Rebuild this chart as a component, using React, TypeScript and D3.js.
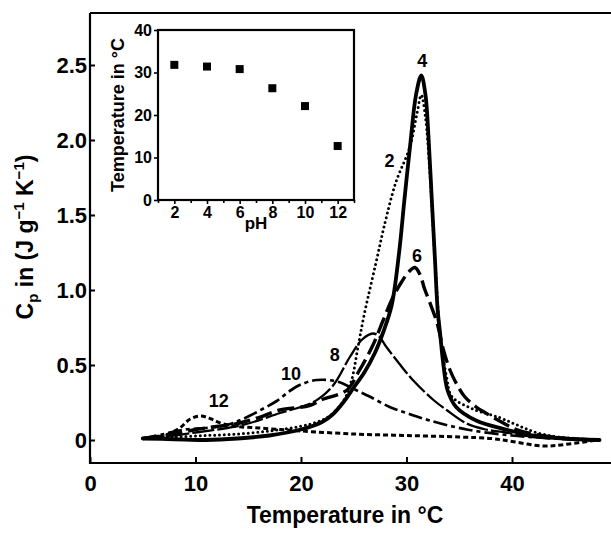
import React, { useEffect, useRef } from 'react';
import * as d3 from 'd3';

// DSC traces, [temperature °C, Cp J g-1 K-1]
const ph2 = [[5, 0.01], [8, 0.02], [11, 0.03], [14, 0.04], [17, 0.06], [19.9, 0.09], [21.5, 0.12], [22.7, 0.16], [24.1, 0.27], [24.8, 0.4], [25.4, 0.62], [26.0, 0.84], [27.1, 1.18], [28.0, 1.46], [29.0, 1.72], [30.3, 1.95], [31.0, 2.18], [31.4, 2.3], [31.8, 2.15], [32.2, 1.8], [32.7, 1.2], [33.2, 0.7], [33.8, 0.42], [34.3, 0.29], [36.2, 0.21], [38.8, 0.15], [40.5, 0.1], [42.3, 0.05], [44.5, 0.02], [48, 0.0]];
const ph4 = [[5, 0.01], [8, 0.005], [11, 0.0], [14, 0.01], [17, 0.03], [20, 0.07], [22, 0.12], [23, 0.17], [24, 0.25], [25, 0.35], [26, 0.45], [27, 0.58], [27.8, 0.72], [28.6, 0.9], [29.3, 1.25], [29.8, 1.6], [30.4, 2.0], [30.9, 2.3], [31.4, 2.43], [31.8, 2.3], [32.1, 2.0], [32.4, 1.6], [32.7, 1.2], [32.95, 0.87], [33.2, 0.7], [33.5, 0.5], [33.9, 0.33], [34.7, 0.22], [36.6, 0.13], [39.4, 0.07], [41.9, 0.03], [45, 0.01], [48.3, 0.0]];
const ph6 = [[5, 0.01], [8, 0.04], [10, 0.07], [12, 0.09], [14, 0.11], [16, 0.15], [18, 0.2], [20.8, 0.23], [22, 0.27], [24.3, 0.33], [25.5, 0.46], [26.8, 0.63], [27.8, 0.8], [28.7, 0.95], [29.5, 1.05], [30.2, 1.12], [30.8, 1.15], [31.3, 1.1], [31.7, 1.01], [32.3, 0.9], [32.9, 0.78], [33.5, 0.6], [34.1, 0.47], [34.7, 0.38], [35.5, 0.29], [36.6, 0.22], [37.5, 0.18], [39, 0.12], [40.4, 0.07], [42, 0.04], [45, 0.01], [48, 0.0]];
const ph8 = [[5, 0.01], [8, 0.03], [10, 0.05], [13, 0.08], [15, 0.11], [18, 0.18], [21.1, 0.25], [23, 0.36], [24.6, 0.55], [25.8, 0.67], [26.8, 0.71], [27.4, 0.69], [28.1, 0.62], [29.3, 0.51], [30.6, 0.4], [32.5, 0.27], [33.8, 0.2], [35.7, 0.11], [37.5, 0.07], [39.4, 0.05], [42, 0.02], [45, 0.01], [48, 0.0]];
const ph10 = [[5, 0.01], [7, 0.04], [9, 0.07], [11, 0.08], [13, 0.1], [14.5, 0.14], [16.7, 0.22], [17.7, 0.26], [19, 0.33], [20, 0.37], [21.5, 0.4], [23.4, 0.39], [25.3, 0.33], [26.5, 0.29], [28.4, 0.22], [30, 0.18], [32.2, 0.13], [35.7, 0.07], [40, 0.03], [44, 0.01], [48, 0.0]];
const ph12 = [[5, 0.01], [7, 0.03], [8.5, 0.08], [9.5, 0.14], [10.5, 0.16], [11.5, 0.14], [12.5, 0.11], [14, 0.09], [16, 0.08], [18, 0.07], [20, 0.06], [25, 0.04], [30, 0.03], [35, 0.02], [38, 0.01], [40, -0.01], [43, -0.04], [45, -0.03], [48, 0.0]];

// curve label, anchor temperature, anchor Cp
const curveLabels: [string, number, number][] = [
  ['2', 28.4, 1.82], ['4', 31.5, 2.49], ['6', 31.0, 1.19],
  ['8', 23.2, 0.53], ['10', 19.05, 0.4], ['12', 12.2, 0.22],
];

// inset: transition temperature vs pH
const insetPH = [2, 4, 6, 8, 10, 12];
const insetTemp = [31.8, 31.4, 30.8, 26.3, 22.1, 12.7];

const mainXTicks = [0, 10, 20, 30, 40];
const mainYTicks = [0, 0.5, 1.0, 1.5, 2.0, 2.5];
const insetYTicks = [0, 10, 20, 30, 40];

const font = '"Liberation Sans", Arial, Helvetica, sans-serif';

const App: React.FC = () => {
  const svgRef = useRef<SVGSVGElement | null>(null);

  useEffect(() => {
    if (!svgRef.current) return;
    const svg = d3.select(svgRef.current);
    svg.selectAll('*').remove();

    const left = 90, right = 611, top = 13, bottom = 463;

    const x = d3.scaleLinear().domain([0, 40]).range([left, 512]);
    const y = d3.scaleLinear().domain([0, 2.5]).range([440, 65]);

    // frame
    svg.append('path')
      .attr('d', `M${left},${top}H${right}M${left},${top}V${bottom}H${right}`)
      .attr('fill', 'none').attr('stroke', '#000').attr('stroke-width', 2.2);

    const yAxis = svg.append('g')
      .attr('transform', `translate(${left},0)`)
      .call(d3.axisLeft(y).tickValues(mainYTicks).tickFormat(d3.format('.1f'))
        .tickSizeInner(-5).tickSizeOuter(0).tickPadding(3));
    const xAxis = svg.append('g')
      .attr('transform', `translate(0,${bottom})`)
      .call(d3.axisBottom(x).tickValues(mainXTicks).tickFormat(d3.format('d'))
        .tickSizeInner(-6).tickSizeOuter(0).tickPadding(12));
    [xAxis, yAxis].forEach((g) => {
      g.select('.domain').remove();
      g.selectAll('line').attr('stroke-width', 2);
      g.selectAll('text').attr('font-family', font).attr('font-size', 22)
        .attr('font-weight', 'bold').attr('fill', '#000');
    });
    yAxis.selectAll('text').text((d: any) => (d === 0 ? '0' : d3.format('.1f')(d)));

    // curves
    const line = d3.line<number[]>()
      .x((d) => x(d[0]))
      .y((d) => y(d[1]))
      .curve(d3.curveCatmullRom.alpha(0.5));

    const series = [
      { data: ph12, width: 3.0, dash: '5,3', cap: 'butt' },
      { data: ph10, width: 2.7, dash: '14,4,4,4', cap: 'butt' },
      { data: ph8, width: 2.3, dash: '22,3', cap: 'butt' },
      { data: ph6, width: 3.4, dash: '17,6', cap: 'butt' },
      { data: ph2, width: 3.0, dash: '0,4.8', cap: 'round' },
      { data: ph4, width: 3.8, dash: null, cap: 'round' },
    ];
    series.forEach((s) => {
      svg.append('path')
        .attr('d', line(s.data))
        .attr('fill', 'none')
        .attr('stroke', '#000')
        .attr('stroke-width', s.width)
        .attr('stroke-linecap', s.cap)
        .attr('stroke-linejoin', 'round')
        .attr('stroke-dasharray', s.dash);
    });

    svg.append('g').selectAll('text').data(curveLabels).enter().append('text')
      .attr('x', (d) => x(d[1]))
      .attr('y', (d) => y(d[2]))
      .attr('text-anchor', 'middle')
      .attr('font-family', font).attr('font-size', 18).attr('font-weight', 'bold')
      .text((d) => d[0]);

    // axis titles
    svg.append('text')
      .attr('x', 345).attr('y', 523)
      .attr('text-anchor', 'middle')
      .attr('font-family', font).attr('font-size', 23).attr('font-weight', 'bold')
      .text('Temperature in °C');

    const yt = svg.append('text')
      .attr('transform', 'translate(33,237) rotate(-90)')
      .attr('text-anchor', 'middle')
      .attr('font-family', font).attr('font-size', 23).attr('font-weight', 'bold');
    yt.append('tspan').text('C');
    yt.append('tspan').attr('dy', 5).attr('font-size', 15).text('p');
    yt.append('tspan').attr('dy', -5).text(' in (J g');
    yt.append('tspan').attr('dy', -9).attr('font-size', 15).text('−1');
    yt.append('tspan').attr('dy', 9).text(' K');
    yt.append('tspan').attr('dy', -9).attr('font-size', 15).text('−1');
    yt.append('tspan').attr('dy', 9).text(')');

    // inset
    const ix = d3.scaleLinear().domain([1, 13]).range([158, 354]);
    const iy = d3.scaleLinear().domain([0, 40]).range([200, 30]);
    const inset = svg.append('g');
    inset.append('rect')
      .attr('x', ix(1)).attr('y', iy(40))
      .attr('width', ix(13) - ix(1)).attr('height', iy(0) - iy(40))
      .attr('fill', '#fff').attr('stroke', '#000').attr('stroke-width', 2.2);

    const iyAxis = inset.append('g')
      .attr('transform', `translate(${ix(1)},0)`)
      .call(d3.axisLeft(iy).tickValues(insetYTicks).tickSize(4).tickPadding(2));
    const ixAxis = inset.append('g')
      .attr('transform', `translate(0,${iy(0)})`)
      .call(d3.axisBottom(ix).tickValues(insetPH).tickSize(4).tickPadding(3));
    const ixMinor = inset.append('g')
      .attr('transform', `translate(0,${iy(0)})`)
      .call(d3.axisBottom(ix).tickValues(d3.range(1, 14, 2)).tickSize(3).tickFormat(() => ''));
    [iyAxis, ixAxis, ixMinor].forEach((g) => {
      g.select('.domain').remove();
      g.selectAll('line').attr('stroke-width', 1.6);
      g.selectAll('text').attr('font-family', font).attr('font-size', 16)
        .attr('font-weight', 'bold').attr('fill', '#000');
    });

    inset.append('g').selectAll('rect').data(insetPH).enter().append('rect')
      .attr('x', (d) => ix(d) - 4)
      .attr('y', (d, i) => iy(insetTemp[i]) - 4)
      .attr('width', 8).attr('height', 8)
      .attr('fill', '#000');

    inset.append('text')
      .attr('x', ix(7)).attr('y', 229)
      .attr('text-anchor', 'middle')
      .attr('font-family', font).attr('font-size', 17).attr('font-weight', 'bold')
      .text('pH');
    inset.append('text')
      .attr('transform', `translate(124,${(iy(0) + iy(40)) / 2}) rotate(-90)`)
      .attr('text-anchor', 'middle')
      .attr('font-family', font).attr('font-size', 18).attr('font-weight', 'bold')
      .text('Temperature in °C');
  }, []);

  return (
    <div style={{ position: 'absolute', left: 0, top: 0 }}>
      <svg ref={svgRef} width={611} height={535} style={{ display: 'block', background: '#fff' }}></svg>
    </div>
  );
};

export default App;
